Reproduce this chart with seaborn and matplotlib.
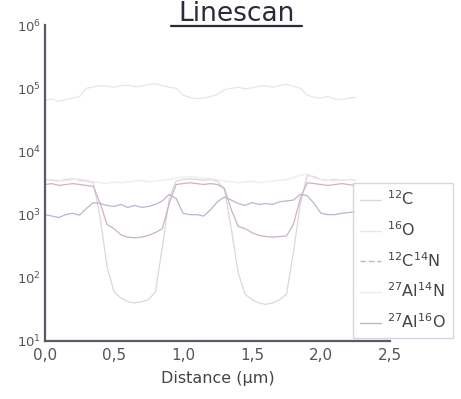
import numpy as np
import pandas as pd
import seaborn as sns
import matplotlib.pyplot as plt
from matplotlib.lines import Line2D
from matplotlib.ticker import FixedLocator, LogLocator, NullFormatter

# linescan of a patterned film, counts vs distance
distance = [0.00, 0.05, 0.10, 0.15, 0.20, 0.25, 0.30, 0.35, 0.40, 0.45,
            0.50, 0.55, 0.60, 0.65, 0.70, 0.75, 0.80, 0.85, 0.90, 0.95,
            1.00, 1.05, 1.10, 1.15, 1.20, 1.25, 1.30, 1.35, 1.40, 1.45,
            1.50, 1.55, 1.60, 1.65, 1.70, 1.75, 1.80, 1.85, 1.90, 1.95,
            2.00, 2.05, 2.10, 2.15, 2.20, 2.25]

c12 = [3600, 3500, 3400, 3600, 3700, 3500, 3400, 3200,
       900, 150, 60, 48, 42, 40, 42, 45, 60, 300, 1800, 3400,
       3600, 3700, 3600, 3500, 3600, 3400, 2500, 600,
       120, 55, 45, 40, 38, 40, 45, 55, 250, 1500,
       4200, 4000, 3600, 3500, 3600, 3500, 3600, 3500]

o16 = [65000, 68000, 62000, 66000, 70000, 74000,
       100000, 105000, 110000, 108000, 104000, 110000, 112000, 106000,
       108000, 115000, 118000, 110000, 104000, 100000,
       78000, 72000, 68000, 70000, 74000, 80000,
       95000, 100000, 104000, 98000, 102000, 108000, 110000, 104000,
       112000, 115000, 108000, 100000,
       78000, 72000, 70000, 74000, 68000, 66000, 70000, 72000]

c12n14 = [1000, 950, 900, 1000, 1050, 980, 1250, 1550, 1500, 1400,
          1350, 1450, 1300, 1400, 1300, 1350, 1450, 1650, 2100, 1800,
          1050, 1000, 1000, 950, 1200, 1600, 1900, 1700, 1500, 1400,
          1550, 1450, 1500, 1450, 1600, 1650, 1700, 2100, 2000, 1500,
          1050, 1000, 1000, 1050, 1080, 1100]

al27n14 = [3500, 3600, 3500, 3400, 3600, 3700, 3500, 3300, 3200, 3100,
           3300, 3200, 3300, 3400, 3500, 3300, 3400, 3500, 3600, 3800,
           3900, 4000, 3900, 3800, 3700, 3600, 3400, 3300, 3200, 3300,
           3400, 3200, 3300, 3400, 3500, 3600, 3900, 4200, 4400, 3800,
           3600, 3500, 3400, 3500, 3600, 3500]

al27o16 = [3000, 3100, 2900, 3000, 3100, 3000, 2900, 2800,
           1500, 700, 600, 480, 440, 430, 440, 470, 520, 600, 1500, 3000,
           3100, 3200, 3100, 3000, 3100, 3000, 2600, 1200,
           650, 600, 520, 470, 450, 440, 450, 460, 700, 1800,
           3200, 3100, 3000, 2900, 3000, 3100, 3000, 2900]

labels = [r'$^{12}$C', r'$^{16}$O', r'$^{12}$C$^{14}$N',
          r'$^{27}$Al$^{14}$N', r'$^{27}$Al$^{16}$O']
colors = ['#d9d9d9', '#e6e6e6', '#bdb4cf', '#ececec', '#cdb0cb']

df = pd.DataFrame({'distance': distance * 5,
                   'counts': c12 + o16 + c12n14 + al27n14 + al27o16,
                   'species': sum([[l] * len(distance) for l in labels], [])})

sns.set_style('white')
plt.rcParams['font.family'] = ['DejaVu Sans']
plt.rcParams['mathtext.fontset'] = 'dejavusans'

fig = plt.figure(figsize=(4.61, 3.99), dpi=100)
ax = fig.add_axes([0.0976, 0.1454, 0.7484, 0.7916])

sns.lineplot(data=df, x='distance', y='counts', hue='species',
             palette=dict(zip(labels, colors)), linewidth=0.9,
             legend=False, ax=ax)

ax.set_yscale('log')
ax.set_ylim(10, 1e6)
ax.set_xlim(0, 2.5)

ax.xaxis.set_major_locator(FixedLocator([0, 0.5, 1.0, 1.5, 2.0, 2.5]))
ax.xaxis.set_minor_locator(FixedLocator([0.25, 0.75, 1.25, 1.75, 2.25]))
ax.set_xticklabels(['0,0', '0,5', '1,0', '1,5', '2,0', '2,5'])
ax.yaxis.set_major_locator(LogLocator(base=10, numticks=10))
ax.yaxis.set_minor_locator(LogLocator(base=10, subs=np.arange(2, 10), numticks=20))
ax.yaxis.set_minor_formatter(NullFormatter())

for s in ['top', 'right']:
    ax.spines[s].set_visible(False)
for s in ['left', 'bottom']:
    ax.spines[s].set_color('#5a5a66')
    ax.spines[s].set_linewidth(1.6)

ax.tick_params(axis='both', which='major', direction='in', length=5,
               width=1.0, color='#5a5a66', labelcolor='#555555')
ax.tick_params(axis='both', which='minor', direction='in', length=3,
               width=0.8, color='#5a5a66')
ax.tick_params(axis='x', which='major', labelsize=11, pad=5)
ax.tick_params(axis='y', which='major', labelsize=9.5, pad=3)

ax.set_xlabel('Distance (µm)', fontsize=11.5, color='#444444', labelpad=6)
ax.set_ylabel('')

fig.text(0.514, 0.965, 'Linescan', ha='center', va='center',
         fontsize=19, color='#2a2a3c')
fig.add_artist(Line2D([0.372, 0.655], [0.935, 0.935], transform=fig.transFigure,
                      color='#2a2a3c', linewidth=1.6))

handles = [Line2D([], [], color=c, linewidth=1.0) for c in colors]
handles[2].set_linestyle((0, (4, 2)))
leg = fig.legend(handles, labels, loc='lower right',
                 bbox_to_anchor=(0.982, 0.152), fontsize=11.5,
                 frameon=True, fancybox=False, handlelength=1.3,
                 labelspacing=0.75, borderpad=0.45, handletextpad=0.35,
                 borderaxespad=0.0, labelcolor='#444444')
leg.get_frame().set_edgecolor('#c5cfdb')
leg.get_frame().set_linewidth(1.0)

fig.savefig('out.png', dpi=100)
